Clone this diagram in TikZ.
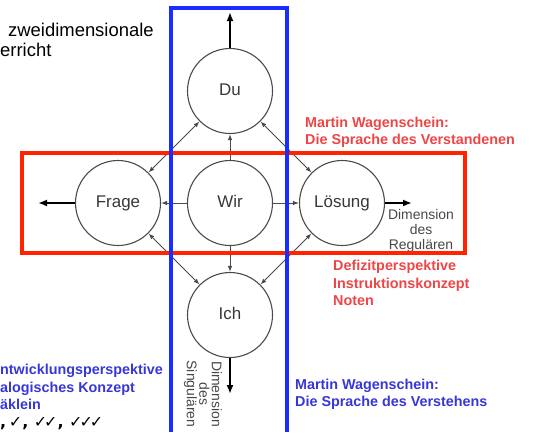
\documentclass[tikz,border=0pt]{standalone}
\usepackage{fontspec}
\setmainfont{Liberation Sans}
\newfontfamily\checkfont{DejaVu Sans}
\usetikzlibrary{arrows.meta}
\definecolor{framered}{RGB}{255,35,0}
\definecolor{frameblue}{RGB}{25,45,255}
\definecolor{textred}{RGB}{238,70,70}
\definecolor{textblue}{RGB}{55,55,215}
\definecolor{circgray}{RGB}{75,75,75}
\newcommand{\hk}{✓}
\begin{document}
\begin{tikzpicture}[x=1bp, y=-1bp,
    person/.style={circle, draw=circgray, line width=1.1bp, fill=white, minimum size=85bp, inner sep=0pt, text height=12.5bp, text depth=3.5bp, text=black!78, font=\fontsize{17}{20}\selectfont},
    link/.style={draw=circgray, line width=1bp, -{Latex[length=6bp,width=4.5bp]}},
    both/.style={draw=circgray, line width=1bp, {Latex[length=6bp,width=4.5bp]}-{Latex[length=6bp,width=4.5bp]}},
    outward/.style={line width=2.4bp, -{Latex[length=9bp,width=7bp]}},
    note/.style={align=left, anchor=west, inner sep=0pt, font=\bfseries\fontsize{14.4}{17.5}\selectfont},
    dim/.style={align=center, inner sep=0pt, text=black!72, font=\fontsize{14}{15}\selectfont}]
    \useasboundingbox (0,0) rectangle (533,432);
    % the five circles
    \node[person] (wir) at (230,203) {Wir};
    \node[person] (du) at (230,91) {Du};
    \node[person] (ich) at (230,315) {Ich};
    \node[person] (frage) at (118,203) {Frage};
    \node[person] (loesung) at (342,203) {Lösung};
    \coordinate (oben) at (230,12);
    \coordinate (links) at (38,203);
    \coordinate (rechts) at (412,203);
    \coordinate (unten) at (230,394);
    % connectors
    \draw[link] (wir) -- (du);
    \draw[link] (wir) -- (ich);
    \draw[link] (wir) -- (frage);
    \draw[link] (wir) -- (loesung);
    \draw[both] (du) -- (frage);
    \draw[both] (du) -- (loesung);
    \draw[both] (ich) -- (frage);
    \draw[both] (ich) -- (loesung);
    \draw[outward] (du) -- (oben);
    \draw[outward] (frage) -- (links);
    \draw[outward] (loesung) -- (rechts);
    \draw[outward] (ich) -- (unten);
    \node[dim] (regulaer) at (421,231) {Dimension\\des\\Regulären};
    \node[dim, rotate=-90, font=\fontsize{14}{12.5}\selectfont] (singulaer) at (203,394) {Dimension\\des\\Singulären};
    % texts
    \node[anchor=west, align=left, inner sep=0pt, font=\fontsize{18.5}{20.5}\selectfont] (titel) at (0,40) {\hspace*{8bp}zweidimensionale\\erricht};
    \node[note, text=textred] (verstanden) at (305,132.5) {Martin Wagenschein:\\Die Sprache des Verstandenen};
    \node[note, text=textred] (defizit) at (333,283) {Defizitperspektive\\Instruktionskonzept\\Noten};
    \node[note, text=textblue] (verstehen) at (295,394.5) {Martin Wagenschein:\\Die Sprache des Verstehens};
    \node[note, text=textblue] (entwicklung) at (0,397) {ntwicklungsperspektive\\alogisches Konzept\\äklein\\{\color{black}\checkfont\bfseries\fontsize{16}{17.5}\selectfont ,\,\hk, \hk\kern-3bp\hk, \hk\kern-3bp\hk\kern-3bp\hk}};
    % frames
    \draw[framered, line width=4bp] (22,153) rectangle (465,253);
    \draw[frameblue, line width=3.5bp] (171,432) -- (171,8) -- (287,8) -- (287,432);
\end{tikzpicture}
\end{document}
